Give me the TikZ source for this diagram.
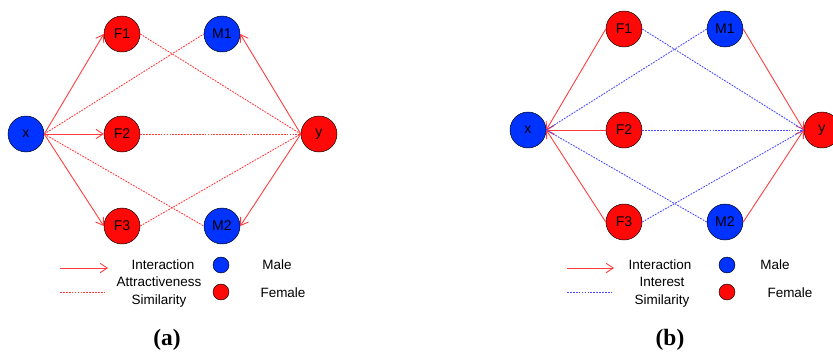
\documentclass[tikz,border=0pt]{standalone}
\usepackage{fontspec}
\setmainfont{Liberation Sans}
\newfontfamily\capfont{Liberation Serif}
\usetikzlibrary{arrows.meta}
\definecolor{colMale}{HTML}{0033FF}
\definecolor{colFemale}{HTML}{FF0808}
\definecolor{colEdge}{HTML}{FF3B3B}
\definecolor{colSim}{HTML}{4A4AFF}

\begin{document}
\begin{tikzpicture}[
  x=0.03cm, y=-0.03cm,
  font=\fontsize{12}{14}\selectfont,
  >={Straight Barb[length=6pt,width=8pt]},
  every node/.style={align=center},
  person/.style={circle, draw=black, fill=#1, minimum size=1.08cm, inner sep=0pt},
  dot/.style={circle, draw=black, fill=#1, minimum size=0.48cm, inner sep=0pt},
  legtext/.style={font=\fontsize{11.5}{15}\selectfont},
  inter/.style={->, color=colEdge, line width=0.75pt},
  simA/.style={color=colEdge, line width=0.75pt, dash pattern=on 1.5pt off 1pt},
  simB/.style={color=colSim, line width=0.75pt, dash pattern=on 1.5pt off 1pt},
]
\useasboundingbox (0,0) rectangle (833,353);

%% ============================================================
%% PANEL (a) - nodes
%% ============================================================
\node[person=colMale]   (xa)  at (26,134)  {x};
\node[person=colFemale] (F1a) at (122,34)  {F1};
\node[person=colFemale] (F2a) at (122,134) {F2};
\node[person=colFemale] (F3a) at (122,226) {F3};
\node[person=colMale]   (M1a) at (222,34)  {M1};
\node[person=colMale]   (M2a) at (222,226) {M2};
\node[person=colFemale] (ya)  at (319,134) {y};

%% ============================================================
%% PANEL (a) - edges
%% ============================================================
\foreach \dst in {F1a, F2a, F3a}
  \draw[inter] (xa.east) -- (\dst.west);
\foreach \dst in {M1a, M2a}
  \draw[inter] (ya.west) -- (\dst.east);

\foreach \dst in {M1a, M2a}
  \draw[simA] (xa.east) -- (\dst.west);
\foreach \src in {F1a, F2a, F3a}
  \draw[simA] (\src.east) -- (ya.west);

%% ============================================================
%% PANEL (a) - legend
%% ============================================================
\coordinate (la1) at (60,268);  \coordinate (la2) at (108,268);
\coordinate (la3) at (60,292);  \coordinate (la4) at (105,292);
\draw[inter] (la1) -- (la2);
\draw[simA]  (la3) -- (la4);
\node[legtext] (intA) at (163,265) {Interaction};
\node[legtext] (simtA) at (159,292) {Attractiveness\\Similarity};
\node[dot=colMale]   (maleA)   at (221,265) {};
\node[dot=colFemale] (femaleA) at (221,292) {};
\node[legtext] (maletA)   at (277,265) {Male};
\node[legtext] (femaletA) at (283,293) {Female};
\node[font=\capfont\bfseries\fontsize{20}{24}\selectfont] (capA) at (167,340) {(a)};

%% ============================================================
%% PANEL (b) - nodes
%% ============================================================
\node[person=colMale]   (xb)  at (528,130) {x};
\node[person=colFemale] (F1b) at (624,29)  {F1};
\node[person=colFemale] (F2b) at (624,130) {F2};
\node[person=colFemale] (F3b) at (624,222) {F3};
\node[person=colMale]   (M1b) at (725,29)  {M1};
\node[person=colMale]   (M2b) at (725,222) {M2};
\node[person=colFemale] (yb)  at (822,130) {y};

%% ============================================================
%% PANEL (b) - edges
%% ============================================================
\foreach \src in {F1b, F2b, F3b}
  \draw[inter] (\src.west) -- (xb.east);
\foreach \src in {M1b, M2b}
  \draw[inter] (\src.east) -- (yb.west);

\foreach \src in {M1b, M2b}
  \draw[simB] (\src.west) -- (xb.east);
\foreach \src in {F1b, F2b, F3b}
  \draw[simB] (\src.east) -- (yb.west);

%% ============================================================
%% PANEL (b) - legend
%% ============================================================
\coordinate (lb1) at (567,268); \coordinate (lb2) at (614,268);
\coordinate (lb3) at (567,292); \coordinate (lb4) at (611,292);
\draw[inter] (lb1) -- (lb2);
\draw[simB]  (lb3) -- (lb4);
\node[legtext] (intB) at (660,265) {Interaction};
\node[legtext] (simtB) at (662,292) {Interest\\Similarity};
\node[dot=colMale]   (maleB)   at (727,265) {};
\node[dot=colFemale] (femaleB) at (727,292) {};
\node[legtext] (maletB)   at (775,265) {Male};
\node[legtext] (femaletB) at (790,293) {Female};
\node[font=\capfont\bfseries\fontsize{20}{24}\selectfont] (capB) at (670,340) {(b)};

\end{tikzpicture}
\end{document}
